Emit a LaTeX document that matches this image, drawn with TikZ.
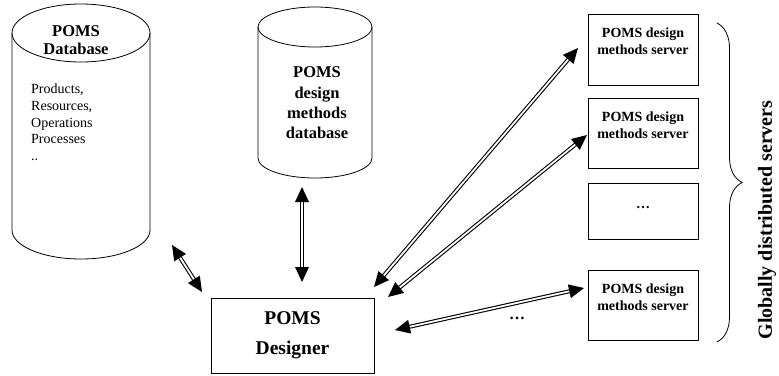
\documentclass[tikz,border=0pt]{standalone}
\usepackage{fontspec}
\setmainfont{Liberation Serif}
\usetikzlibrary{decorations.pathreplacing,decorations.markings,calc}
\tikzset{
  shapeline/.style={draw=black,line width=0.8pt},
  dblarrow/.style={
    preaction={draw=black,line width=4pt,shorten >=12pt,shorten <=12pt},
    preaction={draw=white,line width=1.8pt,shorten >=12pt,shorten <=12pt},
    postaction={decorate,decoration={markings,
      mark=at position 0 with {\fill[black] (0pt,0pt) -- (15pt,7pt) -- (15pt,-7pt) -- cycle;},
      mark=at position 0.99999 with {\fill[black] (0pt,0pt) -- (-15pt,7pt) -- (-15pt,-7pt) -- cycle;}}}},
  srvbox/.style={shapeline,minimum width=110pt,inner sep=0pt},
  srvtext/.style={font=\fontsize{14}{17}\selectfont\bfseries,align=center,inner sep=0pt},
  dbtitle/.style={font=\fontsize{16.5}{18.5}\selectfont\bfseries,align=center,inner sep=0pt},
}
\begin{document}
\begin{tikzpicture}[x=1pt,y=-1pt]
\useasboundingbox (0,0) rectangle (779,375);
% POMS Database cylinder
\draw[shapeline] (81,33) ellipse[x radius=69pt,y radius=29pt];
\draw[shapeline] (12,33) -- (12,230) arc[start angle=180,end angle=360,x radius=69pt,y radius=29pt] -- (150,33);
\node[dbtitle] (dbA) at (76,40) {POMS\\Database};
\node[font=\fontsize{14}{16.8}\selectfont,align=left,anchor=north west,inner sep=0pt] (dbAtext) at (31,83.5)
  {Products,\\Resources,\\Operations\\Processes\\..};
% POMS design methods database cylinder
\draw[shapeline] (315,27) ellipse[x radius=57pt,y radius=20pt];
\draw[shapeline] (258,27) -- (258,158) arc[start angle=180,end angle=360,x radius=57pt,y radius=20pt] -- (372,27);
\node[dbtitle,font=\fontsize{16.5}{20.3}\selectfont\bfseries] (dbB) at (317,103) {POMS\\design\\methods\\database};
% Designer
\node[shapeline,minimum width=163pt,minimum height=75pt,inner sep=0pt,
      font=\fontsize{19.5}{30}\selectfont\bfseries,align=center] (des) at (292.5,335.5) {POMS\\Designer};
% Servers
\node[srvbox,minimum height=71pt] (s1) at (643,49.5) {};
\node[srvtext] (s1t) at (643,41) {POMS design\\methods server};
\node[srvbox,minimum height=70pt] (s2) at (643,133) {};
\node[srvtext] (s2t) at (643,125) {POMS design\\methods server};
\node[srvbox,minimum height=56pt] (s3) at (643,211) {};
\node[srvtext] (s3t) at (643,208) {…};
\node[srvbox,minimum height=70pt] (s4) at (643,305) {};
\node[srvtext] (s4t) at (643,297) {POMS design\\methods server};
\node[font=\fontsize{16}{16}\selectfont\bfseries,inner sep=0pt] (dots) at (517,318) {…};
% Brace and label
\coordinate (brtop) at (717,23);
\coordinate (brbot) at (717,342);
\draw[line width=0.8pt,decorate,decoration={brace,amplitude=25pt}] (brtop) -- (brbot);
\node[rotate=90,font=\fontsize{20}{20}\selectfont\bfseries,inner sep=0pt] (glob) at (767,220) {Globally distributed servers};
% Arrow end points
\coordinate (a1s) at (172,245); \coordinate (a1e) at (202,292);
\coordinate (a2s) at (302,187); \coordinate (a2e) at (302,282);
\coordinate (a3s) at (578,48);  \coordinate (a3e) at (374,287);
\coordinate (a4s) at (587,135); \coordinate (a4e) at (388,297);
\coordinate (a5s) at (584,288); \coordinate (a5e) at (395,330);
\path[dblarrow] (a1s) -- (a1e);
\path[dblarrow] (a2s) -- (a2e);
\path[dblarrow] (a3s) -- (a3e);
\path[dblarrow] (a4s) -- (a4e);
\path[dblarrow] (a5s) -- (a5e);
\end{tikzpicture}
\end{document}
